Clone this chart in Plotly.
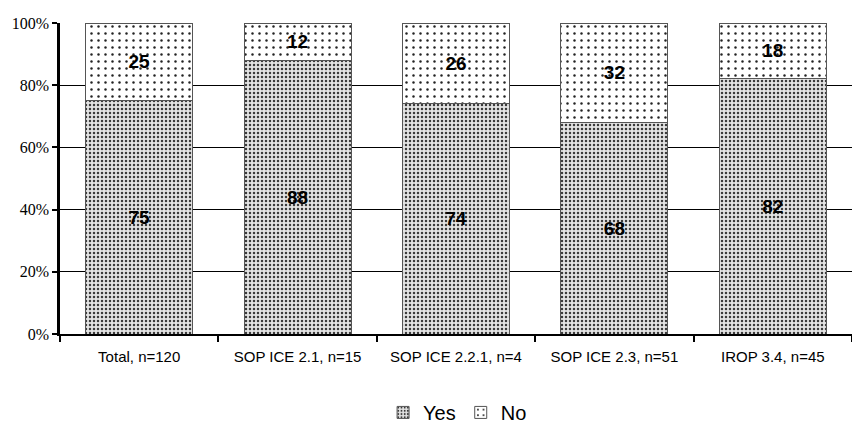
import plotly.graph_objects as go

categories = ["Total, n=120", "SOP ICE 2.1, n=15", "SOP ICE 2.2.1, n=4",
              "SOP ICE 2.3, n=51", "IROP 3.4, n=45"]
yes_values = [75, 88, 74, 68, 82]
no_values = [25, 12, 26, 32, 18]
y_ticks = [0, 20, 40, 60, 80, 100]
y_tick_labels = ["0%", "20%", "40%", "60%", "80%", "100%"]

sans = "Liberation Sans"
label_font = dict(family=sans, size=19, color="black")

fig = go.Figure()
fig.add_trace(go.Bar(
    name="Yes", x=categories, y=yes_values,
    text=[f"<b>{v}</b>" for v in yes_values],
    textposition="inside", insidetextanchor="middle",
    textfont=label_font, textangle=0,
    marker=dict(
        color="#e4e4e4",
        line=dict(color="#555555", width=1),
        pattern=dict(shape=".", fgcolor="#3a3a3a", bgcolor="#e4e4e4",
                     size=4, solidity=0.3, fillmode="replace"),
    ),
))
fig.add_trace(go.Bar(
    name="No", x=categories, y=no_values,
    text=[f"<b>{v}</b>" for v in no_values],
    textposition="inside", insidetextanchor="middle",
    textfont=label_font, textangle=0,
    marker=dict(
        color="white",
        line=dict(color="#555555", width=1),
        pattern=dict(shape=".", fgcolor="#222222", bgcolor="white",
                     size=7, solidity=0.1, fillmode="replace"),
    ),
))

fig.update_layout(
    barmode="stack",
    bargap=0.325,
    width=852, height=423,
    margin=dict(l=60, r=0, t=23, b=89, autoexpand=False),
    paper_bgcolor="white", plot_bgcolor="white",
    showlegend=True,
    legend=dict(orientation="h", x=0.502, xanchor="center",
                yref="container", y=0.025, yanchor="middle",
                font=dict(family=sans, size=20, color="black"),
                itemwidth=30, traceorder="normal", tracegroupgap=0),
    uniformtext=dict(mode="show", minsize=10),
)
fig.update_xaxes(
    showline=True, linecolor="black", linewidth=2,
    ticks="outside", tickson="boundaries", ticklen=6, tickwidth=2, tickcolor="black",
    ticklabelstandoff=8,
    tickfont=dict(family=sans, size=15, color="black"),
    showgrid=False,
)
fig.update_yaxes(
    range=[0, 100], tickvals=y_ticks, ticktext=y_tick_labels,
    showline=True, linecolor="black", linewidth=2.5,
    ticks="outside", ticklen=5, tickwidth=2, tickcolor="black",
    tickfont=dict(family="Liberation Serif", size=16, color="black"),
    showgrid=True, gridcolor="black", gridwidth=1,
    zeroline=False,
)

fig.write_html("out.html")
